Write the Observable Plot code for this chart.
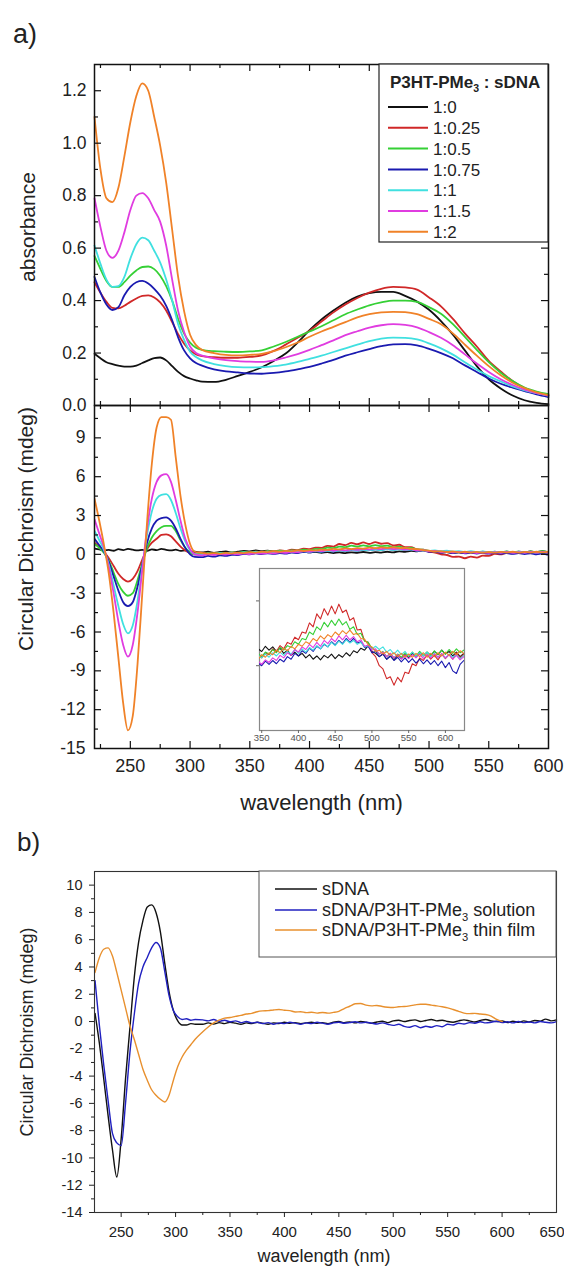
<!DOCTYPE html>
<html><head><meta charset="utf-8">
<script src="https://cdn.jsdelivr.net/npm/d3@7"></script>
<script src="https://cdn.jsdelivr.net/npm/@observablehq/plot@0.6"></script>
<style>
body{margin:0;background:#fff;}
#wrap{position:relative;width:564px;height:1267px;overflow:hidden;background:#fff;}
#wrap svg{position:absolute;left:0;top:0;}
</style></head><body><div id="wrap"></div>
<script>
// ---------- panel a (top): absorbance ----------
const absSeries = ["1:0", "1:0.25", "1:0.5", "1:0.75", "1:1", "1:1.5", "1:2"];
const absColors = ["#111111", "#d02828", "#35d035", "#1a1ab0", "#40e0e0", "#e03ce0", "#f08228"];
const absX = [220,225,230,235,240,245,250,255,260,265,270,275,280,285,290,295,300,305,310,320,330,340,350,360,370,380,390,400,410,420,430,440,450,460,470,480,490,500,510,520,530,540,550,560,570,580,590,600];
const abs_1_0 = [.197,.18,.165,.158,.152,.148,.148,.152,.162,.172,.181,.183,.172,.150,.128,.112,.103,.096,.091,.090,.098,.113,.128,.146,.170,.198,.240,.287,.328,.362,.392,.415,.428,.433,.433,.418,.396,.365,.322,.27,.21,.15,.10,.065,.038,.02,.01,.005];
const abs_1_025 = [.47,.43,.395,.372,.37,.38,.395,.408,.418,.42,.412,.393,.362,.318,.272,.236,.21,.195,.188,.184,.182,.182,.185,.191,.208,.232,.258,.285,.32,.355,.385,.41,.43,.445,.452,.45,.442,.412,.378,.33,.275,.225,.17,.13,.093,.066,.05,.038];
const abs_1_05 = [.57,.52,.475,.452,.452,.47,.495,.515,.528,.53,.52,.495,.455,.40,.33,.274,.24,.22,.212,.207,.205,.204,.206,.21,.225,.242,.262,.282,.302,.325,.348,.366,.382,.393,.40,.40,.395,.375,.35,.31,.262,.212,.165,.125,.093,.068,.053,.043];
const abs_1_075 = [.49,.43,.385,.364,.375,.42,.452,.47,.475,.465,.445,.418,.38,.325,.26,.21,.18,.162,.152,.138,.13,.126,.122,.121,.124,.13,.138,.147,.16,.174,.19,.203,.215,.226,.233,.234,.229,.216,.2,.18,.153,.128,.103,.083,.068,.055,.042,.032];
const abs_1_1 = [.61,.54,.48,.452,.455,.49,.56,.615,.64,.63,.59,.545,.48,.40,.31,.25,.205,.185,.172,.158,.15,.146,.145,.146,.15,.156,.166,.178,.19,.204,.218,.232,.245,.255,.259,.258,.252,.237,.218,.194,.165,.137,.112,.092,.073,.058,.047,.038];
const abs_1_15 = [.79,.68,.59,.563,.59,.66,.745,.80,.81,.79,.745,.70,.61,.48,.36,.28,.225,.2,.19,.18,.173,.169,.167,.166,.172,.183,.196,.212,.23,.248,.268,.283,.297,.306,.31,.307,.298,.28,.258,.23,.195,.16,.128,.1,.078,.06,.047,.038];
const abs_1_2 = [1.10,.90,.79,.775,.83,.95,1.08,1.18,1.228,1.2,1.1,.99,.85,.67,.49,.36,.27,.23,.212,.2,.193,.191,.193,.197,.207,.222,.24,.262,.282,.30,.318,.336,.348,.355,.357,.356,.348,.33,.31,.275,.232,.19,.15,.115,.087,.066,.05,.04];
const absVals = [abs_1_0, abs_1_025, abs_1_05, abs_1_075, abs_1_1, abs_1_15, abs_1_2];
const absYTicks = [0, 0.2, 0.4, 0.6, 0.8, 1.0, 1.2];

// ---------- panel a (middle): circular dichroism ----------
const cdX = [...d3.range(220, 305, 4), ...d3.range(310, 626, 5)];
const cd_1_0 = [.45,.38,.3,.35,.28,.4,.33,.42,.36,.3,.35,.28,.38,.33,.42,.35,.3,.36,.27,.3,.22,.2,
  .15,.2,.12,.18,.22,.14,.2,.26,.22,.3, .24,.29,.22,.27,.19,.24,.16,.21,.15,.19, .12,.17,.1,.15,.09,.16,.12,.18,.11,.17, .13,.2,.15,.23,.2,.27,.24,.31,.22,.19, .14,.18,.1,.15,.09,.16,.11,.17,.12,.19, .14,.2,.15,.21,.16,.22,.17,.24,.18,.22, .15,.21,.14,.19];
const cd_1_025 = [.9,.6,.2,-.3,-.9,-1.5,-1.9,-2.1,-1.9,-1.3,-.4,.4,.9,1.2,1.5,1.55,1.4,1.0,.6,.3,.1,0,
  .02,.08,.03,.1,.06,.13,.08,.16,.12,.2, .17,.26,.22,.31,.26,.36,.33,.44,.4,.52, .5,.66,.6,.8,.72,.88,.78,.92,.8,.95, .82,.86,.7,.74,.55,.56,.38,.36,.2,.14, 0,-.05,-.2,-.17,-.3,-.18,-.25,-.1,-.12,.03, 0,.12,.08,.17,.1,.16,.09,.18,.11,.17, .1,.2,.12,.18];
const cd_1_05 = [.8,.5,.1,-.5,-1.4,-2.3,-2.9,-3.2,-3.0,-2.0,-.7,.5,1.3,1.8,2.1,2.2,2.2,1.8,1.1,.5,.1,0,
  .03,.09,.05,.12,.08,.15,.11,.19,.14,.21, .18,.25,.2,.28,.24,.31,.28,.37,.33,.42, .4,.52,.48,.6,.55,.67,.6,.7,.62,.72, .63,.68,.56,.6,.48,.5,.38,.36,.27,.24, .18,.22,.14,.19,.12,.18,.13,.2,.14,.21, .15,.22,.16,.21,.15,.23,.17,.24,.18,.25, .19,.26,.2,.24];
const cd_1_075 = [1.2,.7,.2,-.6,-1.7,-2.8,-3.7,-4.0,-3.7,-2.5,-.8,.9,2.0,2.6,2.8,2.85,2.6,2.0,1.2,.5,0,-.2,
  -.22,-.12,-.18,-.08,-.12,-.03,-.06,.04,0,.07, .02,.08,.03,.1,.06,.14,.1,.19,.15,.23, .19,.27,.22,.3,.26,.33,.29,.37,.32,.39, .34,.42,.36,.42,.35,.37,.28,.3,.2,.22, .14,.18,.1,.15,.08,.13,.06,.12,.05,.11, .04,.1,.03,.09,.02,.08,0,.07,-.03,.05, -.08,-.12,.02,.08];
const cd_1_1 = [1.8,1.1,.3,-.8,-2.4,-4.0,-5.4,-6.1,-5.5,-3.6,-1.0,1.5,3.3,4.3,4.6,4.65,4.2,3.2,2.0,1.0,.3,0,
  -.02,.05,.02,.09,.06,.12,.09,.16,.12,.18, .13,.2,.15,.21,.16,.22,.18,.25,.19,.26, .21,.28,.24,.31,.26,.34,.29,.36,.31,.38, .33,.4,.35,.39,.33,.36,.29,.31,.26,.3, .25,.29,.21,.25,.18,.24,.17,.22,.15,.21, .14,.2,.15,.21,.14,.19,.13,.18,.12,.18, .13,.17,.11,.16];
const cd_1_15 = [2.7,1.6,.5,-1.0,-3.0,-5.2,-7.0,-7.9,-7.0,-4.5,-1.2,2.0,4.3,5.6,6.1,6.2,5.6,4.2,2.6,1.2,.4,0,
  -.08,0,-.05,.03,-.02,.05,0,.07,.02,.09, .05,.12,.08,.16,.12,.2,.16,.25,.21,.29, .25,.33,.28,.36,.3,.39,.34,.42,.37,.46, .4,.47,.4,.45,.37,.4,.3,.32,.24,.26, .18,.21,.14,.19,.12,.17,.1,.16,.11,.17, .12,.18,.11,.17,.12,.18,.13,.19,.12,.17, .1,.16,.09,.14];
const cd_1_2 = [4.3,2.6,.7,-1.5,-4.5,-8.0,-11.5,-13.6,-12.5,-8.5,-3.0,2.5,7.0,9.8,10.6,10.6,10.4,7.5,4.5,2.3,.8,.2,
  .12,.05,.1,.04,.11,.07,.14,.1,.17,.13, .2,.17,.24,.2,.27,.23,.3,.26,.33,.3, .37,.34,.42,.38,.46,.41,.48,.44,.52,.47, .54,.49,.55,.48,.5,.42,.41,.32,.29,.22, .24,.18,.22,.16,.2,.14,.19,.13,.18,.13, .19,.14,.2,.13,.19,.14,.2,.15,.21,.16, .22,.17,.23,.19];
const cdVals = [cd_1_0, cd_1_025, cd_1_05, cd_1_075, cd_1_1, cd_1_15, cd_1_2];
const cdYTicks = [-15, -12, -9, -6, -3, 0, 3, 6, 9];
const waveTicksA = [250, 300, 350, 400, 450, 500, 550, 600];
const insetTicks = [350, 400, 450, 500, 550, 600];

// ---------- panel b ----------
const bSeries = ["sDNA", "sDNA/P3HT-PMe3 solution", "sDNA/P3HT-PMe3 thin film"];
const bColors = ["#111111", "#2020c0", "#e8902e"];
const bX = [...d3.range(226, 319, 4), ...d3.range(325, 651, 5)];
const b_sDNA = [.6,-1.6,-4.2,-6.9,-9.4,-11.4,-8.6,-4.2,-.5,3.2,5.8,7.4,8.4,8.55,8.0,6.6,4.3,2.2,.8,.05,-.25,-.25,-.15,-.2,
  -.2,-.1,-.18,-.08,-.15,-.05,-.12,-.2,-.1,-.15, -.05,-.12,-.2,-.1,-.15,-.05,-.12,-.08,-.15,-.1, -.05,-.12,-.08,-.15,-.05,0,-.08,-.03,-.1,0, -.05,-.12,-.03,.02,-.08,.05,.1,0,.08,.12, 0,.08,.15,.05,.1,0,-.05,.05,.12,.05, -.03,.08,.15,.05,0,.05,-.08,.02,-.05,.05, -.03,.08,.03,.18,.05,.12];
const b_solution = [3.0,-.3,-3.2,-5.8,-8.2,-8.9,-9.1,-6.0,-2.3,.5,2.8,4.0,4.7,5.4,5.8,5.4,3.7,1.9,.8,.35,.15,.2,.1,.15,
  .12,.05,.15,.02,.1,-.02,.05,-.08,0,-.1, -.05,-.15,-.08,-.2,-.1,-.15,-.05,-.12,-.2,-.1, -.15,-.05,-.12,-.2,-.1,-.05,-.12,-.08,-.02,-.1, -.05,-.12,-.18,-.1,-.2,-.28,-.2,-.35,-.42,-.3, -.45,-.35,-.42,-.3,-.38,-.2,-.25,-.12,-.18,-.08, -.12,-.02,-.1,-.05,.02,-.08,-.02,-.1,0,-.08, -.03,-.1,0,-.05,-.1,0];
const b_film = [3.6,4.7,5.3,5.4,4.8,3.6,2.3,1.0,-.3,-1.3,-2.4,-3.5,-4.3,-5.0,-5.4,-5.7,-5.9,-5.4,-4.3,-3.3,-2.6,-2.1,-1.7,-1.3,
  -.75,-.4,-.1,.1,.25,.3,.38,.45,.55,.6, .72,.78,.8,.85,.88,.83,.8,.7,.72,.65, .68,.62,.66,.62,.67,.75,.95,1.12,1.3,1.32, 1.2,1.15,1.18,1.1,1.05,1.03,1.08,1.1,1.15,1.22, 1.27,1.27,1.2,1.15,1.08,1.0,.88,.75,.62,.58, .6,.55,.52,.4,.15,0,null,null,null,null, null,null,null,null,null,null];
const bVals = [b_sDNA, b_solution, b_film];
const bYTicks = [-14, -12, -10, -8, -6, -4, -2, 0, 2, 4, 6, 8, 10];
const bXTicks = [250, 300, 350, 400, 450, 500, 550, 600];
const bXLast = [650];

// ---------- build tables ----------
const absData = absSeries.flatMap((s, i) => absX.map((x, j) => ({s, x, y: absVals[i][j]})));
const cdData = absSeries.flatMap((s, i) => cdX.map((x, j) => ({s, x, y: cdVals[i][j]})));
const insetData = cdData.filter(d => d.x >= 345);
const bData = bSeries.flatMap((s, i) => bX.map((x, j) => ({s, x, y: bVals[i][j]})));

const FONT = '"Liberation Sans", Arial, Helvetica, sans-serif';
const W = 564;
const wrap = document.getElementById("wrap");
const baseStyle = {background: "transparent", fontFamily: FONT, color: "#222", overflow: "visible"};

function frameTicks(xd, yd, pxX, pxY, xMaj, xMin, yMaj, yMin, sides, M = 7, m = 4) {
  const st = {stroke: "#111", strokeWidth: 1.2};
  const out = [];
  const add = (vals, len, side) => {
    if (side === "left") out.push(Plot.ruleY(vals, {x1: xd[0], x2: xd[0] + len / pxX, ...st}));
    if (side === "right") out.push(Plot.ruleY(vals, {x1: xd[1] - len / pxX, x2: xd[1], ...st}));
    if (side === "bottom") out.push(Plot.ruleX(vals, {y1: yd[0], y2: yd[0] + len / pxY, ...st}));
    if (side === "top") out.push(Plot.ruleX(vals, {y1: yd[1] - len / pxY, y2: yd[1], ...st}));
  };
  for (const s of sides) {
    if (s === "left" || s === "right") { add(yMaj, M, s); add(yMin, m, s); }
    else { add(xMaj, M, s); add(xMin, m, s); }
  }
  return out;
}

const xMajA = [250, 300, 350, 400, 450, 500, 550];
const xMinA = [225, 275, 325, 375, 425, 475, 525, 575];

// ----- plot A -----
{
  const ml = 94, mr = 16, mt = 64, mb = 15, h = 420;
  const xd = [220, 600], yd = [0, 1.3];
  const pxX = (W - ml - mr) / (xd[1] - xd[0]), pxY = (h - mt - mb) / (yd[1] - yd[0]);
  const p = Plot.plot({
    width: W, height: h, marginLeft: ml, marginRight: mr, marginTop: mt, marginBottom: mb,
    style: baseStyle,
    x: {domain: xd, axis: null}, y: {domain: yd, axis: null},
    color: {domain: absSeries, range: absColors},
    marks: [
      Plot.line(absData, {x: "x", y: "y", z: "s", stroke: "s", strokeWidth: 1.8, curve: "monotone-x"}),
      ...frameTicks(xd, yd, pxX, pxY, xMajA, xMinA, [0.2, 0.4, 0.6, 0.8, 1.0, 1.2], [0.1, 0.3, 0.5, 0.7, 0.9, 1.1], ["left", "right", "top", "bottom"]),
      Plot.frame({stroke: "#111", strokeWidth: 1.5}),
      Plot.axisY(absYTicks, {tickFormat: d => d.toFixed(1), tickSize: 0, tickPadding: 8, fontSize: 17.5, label: null})
    ]
  });
  wrap.appendChild(p);
}

// ----- plot B -----
{
  const ml = 94, mr = 16, mt = 405, mb = 72, h = 820;
  const xd = [220, 600], yd = [-15, 11.5];
  const pxX = (W - ml - mr) / (xd[1] - xd[0]), pxY = (h - mt - mb) / (yd[1] - yd[0]);
  const yMaj = [-12, -9, -6, -3, 0, 3, 6, 9];
  const yMin = [-13.5, -10.5, -7.5, -4.5, -1.5, 1.5, 4.5, 7.5, 10.5];
  const p = Plot.plot({
    width: W, height: h, marginLeft: ml, marginRight: mr, marginTop: mt, marginBottom: mb,
    style: baseStyle,
    x: {domain: xd}, y: {domain: yd},
    color: {domain: absSeries, range: absColors},
    marks: [
      Plot.line(cdData, {x: "x", y: "y", z: "s", stroke: "s", strokeWidth: 1.8, curve: "monotone-x", clip: true}),
      ...frameTicks(xd, yd, pxX, pxY, xMajA, xMinA, yMaj, yMin, ["left", "right", "top", "bottom"]),
      Plot.frame({stroke: "#111", strokeWidth: 1.5}),
      Plot.axisY(cdYTicks, {tickFormat: d => String(d), tickSize: 0, tickPadding: 9, fontSize: 17.5, label: null}),
      Plot.axisX(waveTicksA, {tickFormat: d => String(d), tickSize: 0, tickPadding: 11, fontSize: 18, label: null})
    ]
  });
  wrap.appendChild(p);
}

// ----- inset -----
{
  const ml = 259, mr = 100, mt = 568, mb = 30, h = 760;
  const xd = [347, 626], yd = [-1, 1.5];
  const pxX = (W - ml - mr) / (xd[1] - xd[0]);
  const pxY = (h - mt - mb) / (yd[1] - yd[0]);
  const p = Plot.plot({
    width: W, height: h, marginLeft: ml, marginRight: mr, marginTop: mt, marginBottom: mb,
    style: baseStyle,
    x: {domain: xd, axis: null}, y: {domain: yd, axis: null},
    color: {domain: absSeries, range: absColors},
    marks: [
      Plot.frame({fill: "white", stroke: "#888", strokeWidth: 1.2}),
      Plot.line(insetData, {x: "x", y: "y", z: "s", stroke: "s", strokeWidth: 1.1, clip: true}),
      Plot.ruleY([0, 1], {x1: xd[0] - 3 / pxX, x2: xd[0], stroke: "#666"}),
      Plot.ruleX(insetTicks, {y1: yd[0] - 3 / pxY, y2: yd[0], stroke: "#666"}),
      Plot.axisX(insetTicks, {tickFormat: d => String(d), tickSize: 0, tickPadding: 4, fontSize: 9.5, label: null, color: "#555"})
    ]
  });
  wrap.appendChild(p);
}

// ----- plot C (panel b) -----
{
  const ml = 94, mr = 8, mt = 871, mb = 55, h = 1267;
  const xd = [225.5, 650], yd = [-14, 11];
  const p = Plot.plot({
    width: W, height: h, marginLeft: ml, marginRight: mr, marginTop: mt, marginBottom: mb,
    style: baseStyle,
    x: {domain: xd}, y: {domain: yd},
    color: {domain: bSeries, range: bColors},
    marks: [
      Plot.line(bData, {x: "x", y: "y", z: "s", stroke: "s", strokeWidth: 1.4, curve: "monotone-x"}),
      Plot.frame({stroke: "#333", strokeWidth: 1.1}),
      Plot.axisY(bYTicks, {tickFormat: d => String(d), tickSize: 5, tickPadding: 7, fontSize: 14.5, label: null}),
      Plot.axisY([-13, -11, -9, -7, -5, -3, -1, 1, 3, 5, 7, 9], {tickFormat: () => "", tickSize: 3, label: null}),
      Plot.axisX(bXTicks, {tickFormat: d => String(d), tickSize: 5, tickPadding: 8.5, fontSize: 15, label: null}),
      Plot.axisX(bXLast, {tickFormat: d => String(d), tickSize: 5, tickPadding: 8.5, fontSize: 15, label: null, textAnchor: "end", dx: 8}),
      Plot.axisX([275, 325, 375, 425, 475, 525, 575, 625], {tickFormat: () => "", tickSize: 3, label: null})
    ]
  });
  wrap.appendChild(p);
}

// ----- texts and legends -----
const ov = d3.select(wrap).append("svg").attr("width", W).attr("height", 1267)
  .attr("font-family", FONT).attr("fill", "#222");
function txt(x, y, s, fs, extra = {}) {
  const t = ov.append("text").attr("x", x).attr("y", y).attr("font-size", fs).text(s);
  for (const k in extra) t.attr(k, extra[k]);
  return t;
}
function rot(x, y, s, fs) {
  ov.append("text").attr("transform", `translate(${x},${y}) rotate(-90)`)
    .attr("text-anchor", "middle").attr("font-size", fs).text(s);
}
txt(13, 43, "a)", 27);
txt(17, 851, "b)", 26);
rot(35, 227, "absorbance", 21);
rot(32.6, 529, "Circular Dichroism (mdeg)", 21);
txt(321.5, 810, "wavelength (nm)", 22, {"text-anchor": "middle"});
rot(33, 1032, "Circular Dichroism (mdeg)", 18);
txt(324, 1262, "wavelength (nm)", 18, {"text-anchor": "middle"});

function subText(x, y, fs, parts, bold) {
  const t = ov.append("text").attr("x", x).attr("y", y).attr("font-size", fs);
  if (bold) t.attr("font-weight", "bold");
  let pending = 0;
  for (const [s, sub] of parts) {
    const sp = t.append("tspan").text(s);
    if (sub) {
      sp.attr("dy", fs * 0.25).attr("font-size", fs * 0.62);
      pending = -fs * 0.25;
    } else if (pending) {
      sp.attr("dy", pending);
      pending = 0;
    }
  }
}

// legend a
ov.append("rect").attr("x", 379).attr("y", 64).attr("width", 169).attr("height", 178)
  .attr("fill", "white").attr("stroke", "#222").attr("stroke-width", 1.2);
subText(390, 88, 17, [["P3HT-PMe", false], ["3", true], [" : sDNA", false]], true);
absSeries.forEach((s, i) => {
  const y = 107 + i * 20.8;
  ov.append("line").attr("x1", 388).attr("x2", 428).attr("y1", y).attr("y2", y)
    .attr("stroke", absColors[i]).attr("stroke-width", 2);
  txt(433, y + 6.1, s, 17);
});

// legend b
ov.append("rect").attr("x", 259).attr("y", 871).attr("width", 297).attr("height", 86)
  .attr("fill", "white").attr("stroke", "#555").attr("stroke-width", 1);
const bLegendParts = [
  [["sDNA", false]],
  [["sDNA/P3HT-PMe", false], ["3", true], [" solution", false]],
  [["sDNA/P3HT-PMe", false], ["3", true], [" thin film", false]]
];
[889, 910, 930].forEach((y, i) => {
  ov.append("line").attr("x1", 275).attr("x2", 317).attr("y1", y).attr("y2", y)
    .attr("stroke", bColors[i]).attr("stroke-width", 1.6);
  subText(322, y + 6.4, 18, bLegendParts[i], false);
});
</script></body></html>
